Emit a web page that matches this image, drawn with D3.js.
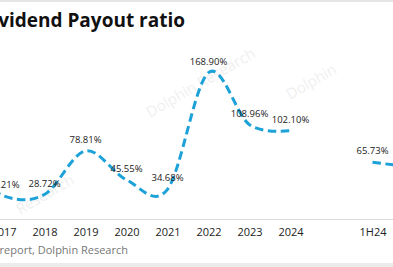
<!DOCTYPE html>
<html>
<head>
<meta charset="utf-8">
<script src="https://cdn.jsdelivr.net/npm/d3@7"></script>
<style>
  html, body { margin: 0; padding: 0; background: #fff; }
  svg { display: block; font-family: "Open Sans", "Noto Sans", sans-serif; }
</style>
</head>
<body>
<svg id="chart"></svg>
<script>
// categories (first and last are outside the visible crop, "" is the gap slot)
var categories = ["2016", "2017", "2018", "2019", "2020", "2021", "2022", "2023", "2024", "", "1H24", "2H24"];
var payout = [62, 27.21, 28.72, 78.81, 45.55, 34.68, 168.90, 108.96, 102.10, null, 65.73, 60];
var payoutLabels = ["", "27.21%", "28.72%", "78.81%", "45.55%", "34.68%", "168.90%", "108.96%", "102.10%", "", "65.73%", ""];

var svgWidth = 393;
var svgHeight = 267;

var svg = d3.select("#chart")
    .attr("width", svgWidth)
    .attr("height", svgHeight);

// frame bands
svg.append("rect")
    .attr("x", 0).attr("y", 0)
    .attr("width", svgWidth).attr("height", 2)
    .attr("fill", "#e6e6e6");
svg.append("rect")
    .attr("x", 0).attr("y", 263)
    .attr("width", svgWidth).attr("height", 4)
    .attr("fill", "#ececec");

// faint watermarks
var marks = [
  { x: 150, y: 118, t: "Dolphin Research" },
  { x: 20, y: 215, t: "Research" },
  { x: 290, y: 100, t: "Dolphin" }
];
svg.selectAll("text.wm")
    .data(marks)
    .enter().append("text")
    .attr("class", "wm")
    .attr("transform", function(d) { return "translate(" + d.x + "," + d.y + ") rotate(-30)"; })
    .attr("fill", "#f0f0f0")
    .attr("font-size", 15)
    .text(function(d) { return d.t; });

var x = d3.scalePoint()
    .domain(categories)
    .range([-37.5, -37.5 + 11 * 41]);

var y = d3.scaleLinear()
    .domain([0, 200])
    .range([219.5, 45.5]);

// title (left part cut off in the original crop)
svg.append("text")
    .attr("x", 185)
    .attr("y", 27)
    .attr("text-anchor", "end")
    .attr("font-size", 19)
    .attr("font-weight", "bold")
    .attr("fill", "#111")
    .text("Dividend Payout ratio");

// x axis
var xAxis = svg.append("g")
    .attr("transform", "translate(0," + 219.5 + ")")
    .call(d3.axisBottom(x).tickSize(0).tickPadding(9));
xAxis.select(".domain").remove();
xAxis.selectAll("text")
    .attr("font-size", 11)
    .attr("fill", "#222")
    .attr("font-family", "\"Open Sans\", sans-serif");
svg.append("line")
    .attr("x1", 0).attr("x2", svgWidth)
    .attr("y1", 219.5).attr("y2", 219.5)
    .attr("stroke", "#dcdcdc")
    .attr("stroke-width", 1);

var line = d3.line()
    .defined(function(d) { return d != null; })
    .x(function(d, i) { return x(categories[i]); })
    .y(function(d) { return y(d); })
    .curve(d3.curveCardinal.tension(0));

svg.append("path")
    .datum(payout)
    .attr("fill", "none")
    .attr("stroke", "#1ca1d8")
    .attr("stroke-width", 3)
    .attr("stroke-dasharray", "8.5,4.5")
    .attr("d", line);

svg.selectAll("text.lbl")
    .data(payout)
    .enter().append("text")
    .attr("class", "lbl")
    .attr("x", function(d, i) { return x(categories[i]); })
    .attr("y", function(d) { return d == null ? 0 : y(d) - 8; })
    .attr("text-anchor", "middle")
    .attr("font-size", 9.5)
    .attr("fill", "#222")
    .text(function(d, i) { return payoutLabels[i]; });

// source note (cut off at left)
svg.append("text")
    .attr("x", 128)
    .attr("y", 254)
    .attr("text-anchor", "end")
    .attr("font-size", 11)
    .attr("fill", "#777")
    .text("Source: Company report, Dolphin Research");
</script>
</body>
</html>
